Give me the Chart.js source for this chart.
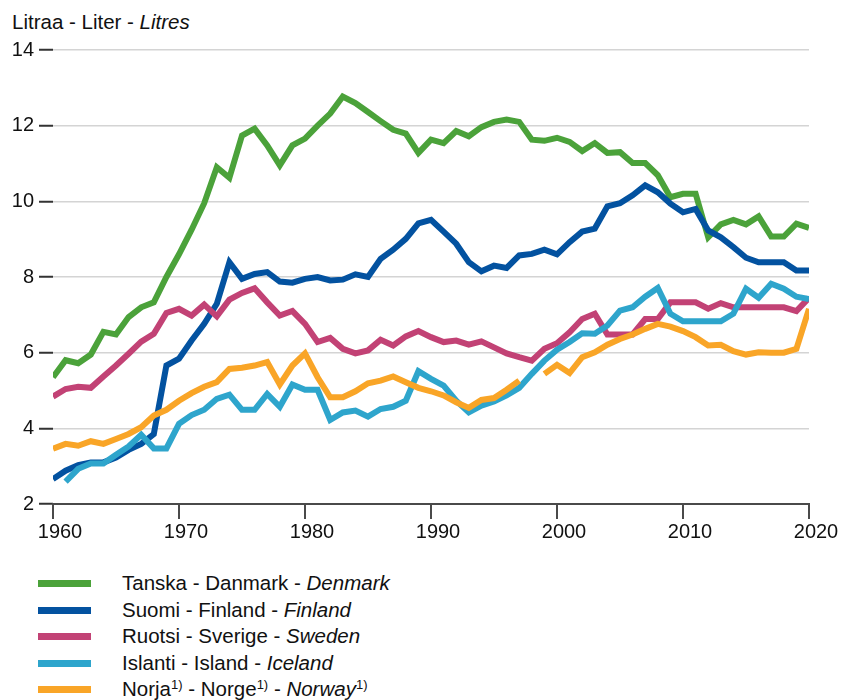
<!DOCTYPE html>
<html>
<head>
<meta charset="utf-8">
<script src="https://cdn.jsdelivr.net/npm/chart.js@4.4.0/dist/chart.umd.min.js"></script>
<style>
  body { margin: 0; width: 842px; height: 700px; background: #fff; position: relative; overflow: hidden;
         font-family: "Liberation Sans", Arial, sans-serif; color: #111; }
  .title { position: absolute; left: 12px; top: 10px; font-size: 20.5px; line-height: 23px; }
  .chart-box { position: absolute; left: 0; top: 0; width: 842px; height: 554px; }
  .legend { position: absolute; left: 0; top: 570px; }
  .legend-row { position: relative; height: 26.6px; line-height: 26.6px; font-size: 20.5px; white-space: nowrap; }
  .legend-row .swatch { position: absolute; left: 38px; top: 10px; width: 53px; height: 7px; }
  .legend-row .label { position: absolute; left: 122px; top: 0; }
  sup { font-size: 13px; line-height: 0; vertical-align: 7px; }
</style>
</head>
<body>
<div class="title">Litraa - Liter - <i>Litres</i></div>
<div class="chart-box"><canvas id="chart"></canvas></div>
<div class="legend" id="legend"></div>

<script>
// vuodet / år / years
const years = [];
for (let y = 1960; y <= 2020; y++) years.push(y);

const denmark = [5.35, 5.8, 5.72, 5.95, 6.55, 6.48, 6.94, 7.2, 7.33, 8.0,
  8.6, 9.25, 9.95, 10.9, 10.62, 11.74, 11.92, 11.48, 10.95, 11.48,
  11.66, 12.0, 12.32, 12.77, 12.6, 12.36, 12.12, 11.89, 11.79, 11.28,
  11.63, 11.54, 11.86, 11.72, 11.96, 12.1, 12.16, 12.1, 11.63, 11.6,
  11.68, 11.57, 11.33, 11.54, 11.28, 11.3, 11.01, 11.01, 10.69, 10.11,
  10.2, 10.2, 9.05, 9.39, 9.51, 9.39, 9.6, 9.07, 9.07, 9.41,
  9.3];

const finland = [2.66, 2.88, 3.03, 3.1, 3.1, 3.23, 3.43, 3.59, 3.85, 5.66,
  5.84, 6.32, 6.76, 7.29, 8.39, 7.95, 8.08, 8.13, 7.88, 7.85,
  7.95, 8.0, 7.91, 7.93, 8.07, 8.0, 8.48, 8.72, 9.01, 9.42,
  9.51, 9.2, 8.88, 8.39, 8.15, 8.3, 8.24, 8.57, 8.61, 8.72,
  8.6, 8.92, 9.2, 9.28, 9.87, 9.95, 10.16, 10.42, 10.24, 9.94,
  9.71, 9.8, 9.23, 9.05, 8.79, 8.51, 8.39, 8.39, 8.39, 8.17,
  8.17];

const sweden = [4.84, 5.04, 5.1, 5.07, 5.37, 5.66, 5.97, 6.29, 6.5, 7.05,
  7.16, 6.98, 7.27, 6.96, 7.4, 7.58, 7.7, 7.33, 6.98, 7.1,
  6.76, 6.28, 6.39, 6.1, 5.98, 6.06, 6.34, 6.19, 6.43, 6.57,
  6.41, 6.28, 6.32, 6.21, 6.3, 6.14, 5.98, 5.88, 5.79, 6.1,
  6.25, 6.54, 6.89, 7.03, 6.48, 6.48, 6.48, 6.89, 6.89, 7.33,
  7.33, 7.33, 7.16, 7.31, 7.2, 7.2, 7.2, 7.2, 7.2, 7.1,
  7.45];

const iceland = [null, 2.59, 2.93, 3.07, 3.07, 3.3, 3.52, 3.83, 3.47, 3.47,
  4.12, 4.35, 4.49, 4.78, 4.89, 4.49, 4.49, 4.91, 4.57, 5.16,
  5.02, 5.02, 4.22, 4.42, 4.47, 4.31, 4.51, 4.57, 4.73, 5.51,
  5.31, 5.13, 4.73, 4.42, 4.6, 4.71, 4.87, 5.07, 5.44, 5.79,
  6.08, 6.28, 6.51, 6.5, 6.72, 7.11, 7.2, 7.48, 7.71, 7.03,
  6.83, 6.83, 6.83, 6.83, 7.03, 7.69, 7.45, 7.82, 7.69, 7.48,
  7.42];

const norway = [3.46, 3.59, 3.54, 3.66, 3.59, 3.72, 3.85, 4.03, 4.34, 4.49,
  4.73, 4.93, 5.1, 5.22, 5.57, 5.6, 5.66, 5.75, 5.16, 5.66,
  5.98, 5.35, 4.82, 4.82, 4.98, 5.19, 5.26, 5.37, 5.22, 5.07,
  4.98, 4.87, 4.69, 4.54, 4.75, 4.8, 5.02, 5.26, null, 5.44,
  5.68, 5.46, 5.88, 6.01, 6.21, 6.36, 6.48, 6.63, 6.76, 6.69,
  6.57, 6.41, 6.19, 6.21, 6.04, 5.95, 6.01, 6.0, 6.0, 6.1,
  7.16];

// selitteet: suomi, ruotsi, englanti
const namesFi = ["Tanska", "Suomi", "Ruotsi", "Islanti", "Norja"];
const namesSv = ["Danmark", "Finland", "Sverige", "Island", "Norge"];
const namesEn = ["Denmark", "Finland", "Sweden", "Iceland", "Norway"];
const footnote = [false, false, false, false, true];
const colors = ["#4ba23a", "#0352a0", "#c24275", "#2ea5cc", "#f9a527"];
const seriesData = [denmark, finland, sweden, iceland, norway];

const yTicks = [2, 4, 6, 8, 10, 12, 14];
const xTicks = [1960, 1970, 1980, 1990, 2000, 2010, 2020];

Chart.defaults.font.family = '"Liberation Sans", Arial, sans-serif';
Chart.defaults.color = "#111";

const datasets = seriesData.map((d, i) => ({
  label: namesEn[i],
  data: d,
  borderColor: colors[i],
  backgroundColor: colors[i],
  borderWidth: 6,
  pointRadius: 0,
  tension: 0,
  spanGaps: false,
  order: seriesData.length - 1 - i, // Norja päällimmäisenä
}));

new Chart(document.getElementById("chart"), {
  type: "line",
  data: { labels: years, datasets: datasets },
  options: {
    responsive: true,
    maintainAspectRatio: false,
    animation: false,
    layout: { padding: { top: 50, right: 33, left: 0, bottom: 0 } },
    plugins: {
      legend: { display: false },
      tooltip: { enabled: false },
    },
    scales: {
      x: {
        type: "linear",
        min: 1960,
        max: 2020,
        border: { color: "#4a4a4a", width: 2 },
        grid: { drawOnChartArea: false, color: "#4a4a4a", lineWidth: 2, tickLength: 15 },
        afterBuildTicks: (scale) => { scale.ticks = xTicks.map((v) => ({ value: v })); },
        ticks: {
          padding: 1,
          labelOffset: 7,
          maxRotation: 0,
          font: { size: 20 },
          callback: (v) => String(v),
        },
        afterFit: (scale) => { scale.height = 50; },
      },
      y: {
        min: 2,
        max: 14,
        border: { display: false },
        grid: { color: "#d4d4d4", lineWidth: 1.5, tickColor: "#333", tickWidth: 2, tickLength: 14 },
        afterBuildTicks: (scale) => { scale.ticks = yTicks.map((v) => ({ value: v })); },
        ticks: { padding: 5, font: { size: 20 } },
        afterFit: (scale) => { scale.width = 53; },
      },
    },
  },
});

// selite HTML:nä, jotta kursiivi ja alaviite toimivat
const legendEl = document.getElementById("legend");
namesFi.forEach((fi, i) => {
  const note = footnote[i] ? "<sup>1)</sup>" : "";
  const row = document.createElement("div");
  row.className = "legend-row";
  row.innerHTML =
    '<span class="swatch" style="background:' + colors[i] + '"></span>' +
    '<span class="label">' + fi + note + " - " + namesSv[i] + note + " - <i>" + namesEn[i] + "</i>" + note + "</span>";
  legendEl.appendChild(row);
});
</script>
</body>
</html>
